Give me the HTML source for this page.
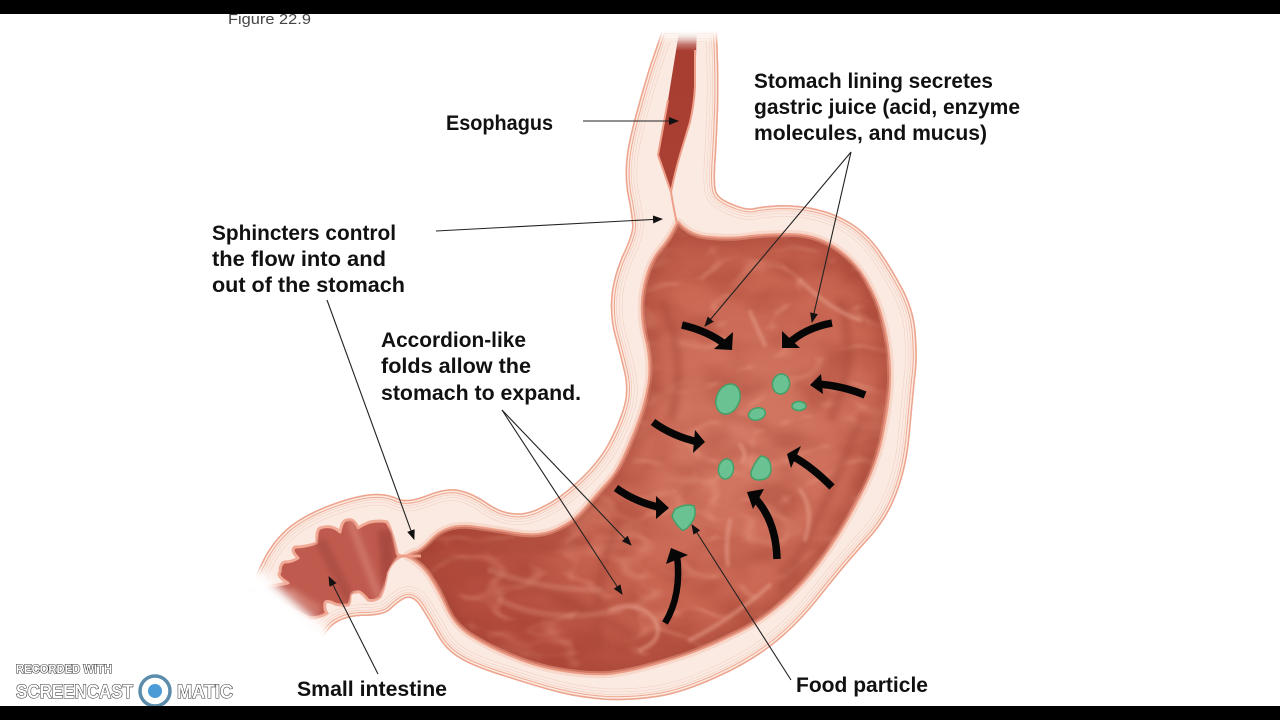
<!DOCTYPE html>
<html><head><meta charset="utf-8"><title>Stomach</title>
<style>html,body{margin:0;padding:0;background:#fff;width:1280px;height:720px;overflow:hidden}svg{display:block}
.l{font-family:"Liberation Sans",sans-serif;font-weight:700;font-size:21px;fill:#111}
.w{font-family:"Liberation Sans",sans-serif;font-weight:700;fill:#fff;stroke:#333;stroke-width:1.1;paint-order:stroke}</style></head>
<body>
<svg width="1280" height="720" viewBox="0 0 1280 720" xmlns="http://www.w3.org/2000/svg">
<defs>
<path id="o" d="M717,30 L718,58 Q719,87 718,113 Q717,140 715.5,163 Q714,187 717,193 Q720,199 733,204 Q747,210 754,208 Q762,206 781,205 Q800,205 817,209 Q835,213 851,223 Q867,233 880,251 Q893,270 904,291 Q915,313 916,336 Q918,360 915,380 Q913,400 910,433 Q907,467 897,493 Q887,520 867,541 Q847,563 823,593 Q800,623 775,643 Q750,663 716,678 Q683,693 658,697 Q633,701 606,700 Q580,698 560,693 Q540,688 506,677 Q473,667 459,658 Q445,650 436,633 Q427,617 420,606 Q412,595 404,599 Q397,603 390,610 Q383,616 361,616 Q340,617 330,628 Q320,640 320,640 L253,580 Q253,580 263,560 Q273,540 290,526 Q307,513 332,504 Q357,495 372,494 Q387,493 397,498 Q407,503 427,495 Q447,487 460,490 Q473,493 486,502 Q500,512 513,513 Q527,515 543,506 Q560,498 580,479 Q600,460 610,440 Q620,420 624,405 Q628,390 624,372 Q620,355 615,337 Q610,320 611,300 Q612,280 622,256 Q633,233 632,225 Q632,217 627,192 Q623,167 630,137 Q637,107 649,68 L662,30 Z"/>
<path id="m" d="M678,223 Q690,237 711,238 Q733,240 750,237 Q767,235 790,235 Q813,235 833,247 Q853,260 865,280 Q877,300 882,321 Q888,343 889,368 Q890,393 883,428 Q877,463 858,498 Q840,533 820,560 Q800,587 778,605 Q757,623 728,636 Q700,650 666,660 Q633,670 616,672 Q600,675 570,671 Q540,667 516,657 Q493,648 475,637 Q457,627 448,608 Q440,590 430,575 Q420,561 408,556 L414,553 Q420,553 433,539 Q447,525 470,527 Q493,530 516,534 Q540,538 557,530 Q575,522 587,507 Q600,492 610,481 Q620,470 632,440 Q645,410 649,386 Q653,363 646,336 Q640,310 645,286 Q650,263 660,251 Q670,240 678,223 Z"/>
<path id="s" d="M250,590 L288,583 Q276,576 280,572 Q280,563 285,562 Q292,562 298,558 Q290,550 295,547 Q305,547 317,543 Q316,530 320,528 Q332,524 340,532 Q342,520 347,520 Q354,518 358,528 Q364,524 370,522 Q380,520 387,522 Q392,530 397,553 Q398,556 402,556 Q392,560 387,573 Q384,590 380,597 Q374,602 368,600 Q360,590 357,592 Q350,592 350,597 Q350,604 348,605 Q338,606 333,603 Q326,600 325,603 Q324,610 327,613 Q320,618 310,618 Z"/>
<path id="e" d="M680,26 L697,26 L695,87 Q694,105 690,122 L680,155 Q675,172 671,192 L658,155 Q662,125 668,100 Z"/>
<linearGradient id="ef" x1="0" y1="0" x2="0" y2="1"><stop offset="0" stop-color="#fff"/><stop offset=".06" stop-color="#e6c3bb"/><stop offset=".15" stop-color="#a83d32"/><stop offset="1" stop-color="#aa4034"/></linearGradient>
<linearGradient id="tf" x1="0" y1="0" x2="0" y2="1"><stop offset="0" stop-color="#fff"/><stop offset=".55" stop-color="#fff"/><stop offset="1" stop-color="#fff" stop-opacity="0"/></linearGradient>
<radialGradient id="sg" gradientUnits="userSpaceOnUse" cx="740" cy="440" r="290"><stop offset="0" stop-color="#d47a66"/><stop offset=".55" stop-color="#c96753"/><stop offset="1" stop-color="#b44d3f"/></radialGradient>
<filter id="b3" x="-20%" y="-20%" width="140%" height="140%"><feGaussianBlur stdDeviation="3"/></filter>
<filter id="b5" x="-40%" y="-40%" width="180%" height="180%"><feGaussianBlur stdDeviation="5"/></filter>
<filter id="b1" x="-20%" y="-20%" width="140%" height="140%"><feGaussianBlur stdDeviation="1.6"/></filter>
<filter id="b8" x="-40%" y="-40%" width="180%" height="180%"><feGaussianBlur stdDeviation="8"/></filter>
<filter id="veins" x="0" y="0" width="100%" height="100%" color-interpolation-filters="sRGB">
<feTurbulence type="turbulence" baseFrequency=".014 .026" numOctaves="2" seed="7"/>
<feColorMatrix type="matrix" values="0 0 0 0 .95  0 0 0 0 .66  0 0 0 0 .56  -6 0 0 0 .95"/>
<feGaussianBlur stdDeviation="1.4"/>
</filter>
<filter id="veins2" x="0" y="0" width="100%" height="100%" color-interpolation-filters="sRGB">
<feTurbulence type="fractalNoise" baseFrequency=".02 .035" numOctaves="2" seed="3"/>
<feColorMatrix type="matrix" values="0 0 0 0 .62  0 0 0 0 .24  0 0 0 0 .18  3 0 0 0 -1.3"/>
<feGaussianBlur stdDeviation="2"/>
</filter>
<clipPath id="co"><use href="#o"/></clipPath>
<clipPath id="cm"><use href="#m"/></clipPath>
<clipPath id="cs"><use href="#s"/></clipPath>
<marker id="a" markerWidth="10" markerHeight="8" refX="9" refY="4" orient="auto" markerUnits="userSpaceOnUse"><path d="M0,0 L10,4 L0,8 Z" fill="#111"/></marker>
</defs>
<rect width="1280" height="720" fill="#fff"/>

<text x="228" y="24" font-family="Liberation Sans,sans-serif" font-size="15" fill="#444" textLength="83" lengthAdjust="spacingAndGlyphs">Figure 22.9</text>

<!-- wall -->
<use href="#o" fill="#fbeae2"/>
<g clip-path="url(#co)" fill="none">
<use href="#o" stroke="#efcdbf" stroke-width="23"/><use href="#o" stroke="#fbeae2" stroke-width="22"/>
<use href="#o" stroke="#efcdbf" stroke-width="17"/><use href="#o" stroke="#fbeae2" stroke-width="16"/>
<use href="#o" stroke="#eec4b4" stroke-width="12"/><use href="#o" stroke="#fbe8de" stroke-width="11"/>
<use href="#o" stroke="#eea892" stroke-width="8"/><use href="#o" stroke="#fcebe2" stroke-width="6"/><use href="#o" stroke="#eda48e" stroke-width="3"/>
</g>

<!-- stomach lining -->
<use href="#m" fill="#f6c6b5" stroke="#f7d8ca" stroke-width="10" stroke-linejoin="round"/>
<use href="#m" fill="url(#sg)" stroke="#eb9b85" stroke-width="4" stroke-linejoin="round"/>
<g clip-path="url(#cm)">
<rect x="400" y="220" width="500" height="470" filter="url(#veins2)" opacity=".35"/>
<rect x="400" y="220" width="500" height="470" filter="url(#veins)" opacity=".35"/>
<use href="#m" fill="none" stroke="#9f3f32" stroke-width="20" opacity=".45" filter="url(#b8)"/>
<g fill="none" stroke="#a84a3b" stroke-width="9" opacity=".45" filter="url(#b3)">
<path d="M420,556 Q470,560 540,590 T640,640"/>
<path d="M450,540 Q520,560 590,540"/>
<path d="M660,300 Q690,360 670,420"/>
<path d="M840,300 Q860,360 830,420"/>
<path d="M860,420 Q830,500 780,590"/>
<path d="M620,520 Q590,580 600,650"/>
</g>
<g fill="none" stroke="#e9a491" stroke-width="4" opacity=".55" filter="url(#b1)" stroke-linecap="round">
<path d="M750,312 Q758,330 765,345"/>
<path d="M800,280 Q830,310 860,320"/>
<path d="M740,445 Q748,455 742,462"/>
<path d="M800,490 Q815,510 805,540"/>
<path d="M730,520 Q725,545 728,565"/>
<path d="M610,610 Q640,600 655,620 Q665,640 640,650"/>
<path d="M690,640 Q730,620 770,585"/>
<path d="M490,570 Q540,590 600,590" stroke-width="6" opacity=".5"/>
<path d="M500,600 Q550,625 620,610" stroke-width="6" opacity=".5"/>
</g>
</g>

<!-- small intestine lumen -->
<use href="#s" fill="#bf5a4e" stroke="#f1aa96" stroke-width="3" stroke-linejoin="round"/>
<g clip-path="url(#cs)" filter="url(#b3)" fill="none">
<path d="M350,520 L380,600" stroke="#d27d70" stroke-width="7" opacity=".8"/>
<path d="M320,540 L350,600" stroke="#ae4f44" stroke-width="11"/>
<path d="M290,590 L320,610" stroke="#d27d70" stroke-width="7" opacity=".8"/>
<path d="M385,530 L390,590" stroke="#a84a3f" stroke-width="14"/>
</g>
<path d="M397,556 L421,556" stroke="#ee9f8a" stroke-width="3"/>
<!-- fade at cut end -->
<path d="M235,568 L335,657" stroke="#fff" stroke-width="30" filter="url(#b5)" fill="none"/>

<!-- esophagus lumen -->
<use href="#e" fill="url(#ef)"/>
<path d="M668,100 L658,155 L671,192 M695,50 L695,87 Q694,105 690,122 L680,155 Q675,172 671,192" fill="none" stroke="#ee9f8a" stroke-width="2"/>
<path d="M671,192 Q673,205 677,224" fill="none" stroke="#ee9f8a" stroke-width="2"/>
<rect x="650" y="14" width="75" height="30" fill="url(#tf)"/>

<!-- thick arrows -->
<g fill="none" stroke="#060606" stroke-width="7.5">
<path d="M682,325 Q708,331 726,345"/>
<path d="M832,323 Q805,328 788,344"/>
<path d="M865,395 Q840,385 816,384"/>
<path d="M653,422 Q672,436 698,442"/>
<path d="M832,487 Q812,467 794,457"/>
<path d="M777,559 Q776,520 754,497"/>
<path d="M616,488 Q635,502 662,508"/>
<path d="M665,623 Q682,595 677,555" stroke-width="6.5"/>
</g>
<g fill="#060606">
<path d="M733,332 L732,350 L714,349 Z"/>
<path d="M782,331 L782,348 L800,348 Z"/>
<path d="M821,374 L810,385 L823,394 Z"/>
<path d="M695,430 L705,442 L693,453 Z"/>
<path d="M801,446 L787,454 L791,468 Z"/>
<path d="M764,489 L747,492 L753,509 Z"/>
<path d="M656,496 L669,508 L656,519 Z"/>
<path d="M688,555 L671,548 L666,564 Z"/>
</g>

<!-- food particles -->
<g fill="#6ac293" stroke="#43a069" stroke-width="1.5">
<ellipse cx="728" cy="399" rx="11.5" ry="15.5" transform="rotate(22 728 399)"/>
<ellipse cx="781" cy="384" rx="8.5" ry="10" transform="rotate(10 781 384)"/>
<ellipse cx="757" cy="414" rx="8.5" ry="6" transform="rotate(-15 757 414)"/>
<ellipse cx="799" cy="406" rx="7" ry="4.5"/>
<ellipse cx="726" cy="469" rx="7.5" ry="10" transform="rotate(10 726 469)"/>
<path d="M761,456 Q771,457 771,470 Q770,480 758,480 Q750,479 751,472 Q755,461 761,456 Z"/>
<path d="M675,509 Q686,503 694,506 Q697,514 692,522 Q686,531 682,530 Q675,524 672,516 Z"/>
</g>

<!-- thin leaders -->
<g stroke="#222" stroke-width="1.1" fill="none">
<path d="M583,121 L678,121" marker-end="url(#a)"/>
<path d="M436,231 L662,219" marker-end="url(#a)"/>
<path d="M851,152 L705,326" marker-end="url(#a)"/>
<path d="M851,152 L812,322" marker-end="url(#a)"/>
<path d="M327,300 L414,539" marker-end="url(#a)"/>
<path d="M502,410 L631,545" marker-end="url(#a)"/>
<path d="M502,410 L622,594" marker-end="url(#a)"/>
<path d="M378,674 L329,577" marker-end="url(#a)"/>
<path d="M791,680 L692,525" marker-end="url(#a)"/>
</g>

<!-- labels -->
<text class="l" x="754" y="88" textLength="239" lengthAdjust="spacingAndGlyphs">Stomach lining secretes</text>
<text class="l" x="754" y="114" textLength="266" lengthAdjust="spacingAndGlyphs">gastric juice (acid, enzyme</text>
<text class="l" x="754" y="140" textLength="233" lengthAdjust="spacingAndGlyphs">molecules, and mucus)</text>
<text class="l" x="446" y="130" textLength="107" lengthAdjust="spacingAndGlyphs">Esophagus</text>
<text class="l" x="212" y="240" textLength="184" lengthAdjust="spacingAndGlyphs">Sphincters control</text>
<text class="l" x="212" y="266" textLength="174" lengthAdjust="spacingAndGlyphs">the flow into and</text>
<text class="l" x="212" y="292" textLength="193" lengthAdjust="spacingAndGlyphs">out of the stomach</text>
<text class="l" x="381" y="347" textLength="145" lengthAdjust="spacingAndGlyphs">Accordion-like</text>
<text class="l" x="381" y="373" textLength="150" lengthAdjust="spacingAndGlyphs">folds allow the</text>
<text class="l" x="381" y="400" textLength="200" lengthAdjust="spacingAndGlyphs">stomach to expand.</text>
<text class="l" x="297" y="696" textLength="150" lengthAdjust="spacingAndGlyphs">Small intestine</text>
<text class="l" x="796" y="692" textLength="132" lengthAdjust="spacingAndGlyphs">Food particle</text>

<!-- bars -->
<rect x="0" y="0" width="1280" height="14" fill="#000"/>

<!-- watermark -->
<text class="w" x="16" y="673" font-size="11.5" textLength="96" lengthAdjust="spacingAndGlyphs">RECORDED WITH</text>
<text class="w" x="16" y="698" font-size="19" textLength="117" lengthAdjust="spacingAndGlyphs">SCREENCAST</text>
<text class="w" x="177" y="698" font-size="19" textLength="56" lengthAdjust="spacingAndGlyphs">MATIC</text>
<circle cx="155" cy="691" r="15" fill="#fff" stroke="#5b8cab" stroke-width="3.5"/>
<circle cx="155" cy="691" r="7" fill="#4a9bd6"/>
<rect x="0" y="706" width="1280" height="14" fill="#000"/>
</svg>
</body></html>
